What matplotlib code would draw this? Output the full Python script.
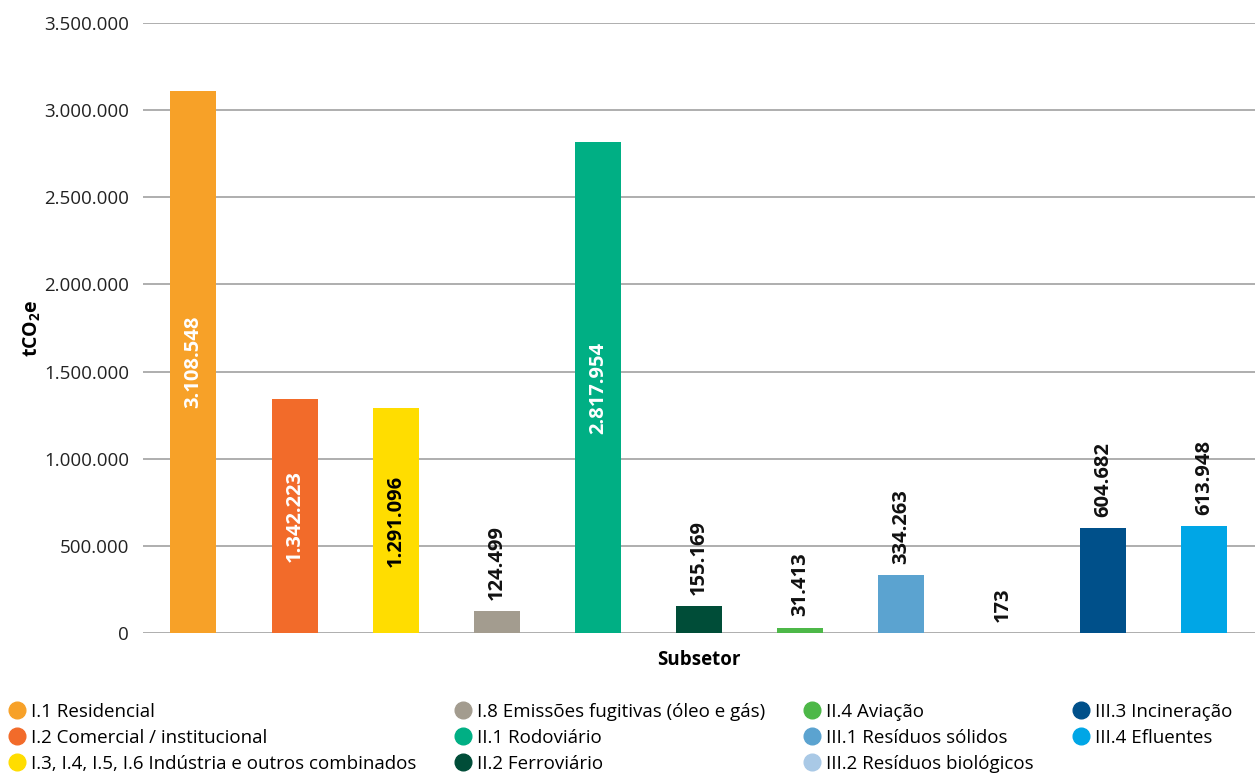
import matplotlib
matplotlib.use("Agg")
import matplotlib.pyplot as plt
from matplotlib.lines import Line2D
from matplotlib.ticker import FuncFormatter

plt.rcParams['font.family'] = ['Open Sans', 'DejaVu Sans']
plt.rcParams['mathtext.fontset'] = 'custom'
plt.rcParams['mathtext.rm'] = 'Open Sans'
plt.rcParams['mathtext.bf'] = 'Open Sans:bold'

categories = ["I.1 Residencial", "I.2 Comercial / institucional",
              "I.3, I.4, I.5, I.6 Indústria e outros combinados",
              "I.8 Emissões fugitivas (óleo e gás)", "II.1 Rodoviário",
              "II.2 Ferroviário", "II.4 Aviação", "III.1 Resíduos sólidos",
              "III.2 Resíduos biológicos", "III.3 Incineração", "III.4 Efluentes"]
values = [3108548, 1342223, 1291096, 124499, 2817954, 155169, 31413,
          334263, 173, 604682, 613948]
colors = ["#F7A128", "#F26B2A", "#FFDD00", "#A39C8F", "#00AF84", "#004D38",
          "#4DB848", "#5BA3D0", "#A9C9E6", "#00508A", "#00A6E6"]
inside_label_color = {0: "white", 1: "white", 2: "black", 4: "white"}
yticks = [0, 500000, 1000000, 1500000, 2000000, 2500000, 3000000, 3500000]

def fmt(v):
    return f"{v:,.0f}".replace(",", ".")

fig = plt.figure(figsize=(12.55, 7.75), dpi=100)
ax = fig.add_axes([0.1139, 0.1832, 0.8861, 0.7871])

x = list(range(len(values)))
ax.bar(x, values, width=0.455, color=colors, zorder=3)
ax.set_xlim(-0.5, len(values) - 0.5)
ax.set_ylim(0, 3500000)
ax.set_yticks(yticks)
ax.yaxis.set_major_formatter(FuncFormatter(lambda v, p: fmt(v)))
ax.tick_params(axis='y', length=0, pad=10, labelsize=13.5, labelcolor="#222222")
ax.set_xticks([])
ax.grid(axis='y', color="#A8A8A8", linewidth=1.3, zorder=0)
for s in ax.spines.values():
    s.set_visible(False)

for i, v in enumerate(values):
    if i in inside_label_color:
        ax.text(i, v / 2, fmt(v), rotation=90, ha='center', va='center',
                color=inside_label_color[i], fontsize=14.5, fontweight='bold', zorder=4)
    else:
        ax.annotate(fmt(v), (i, v), xytext=(0, 8), textcoords='offset points',
                    rotation=90, ha='center', va='bottom', color='#111111',
                    fontsize=14.5, fontweight='bold', zorder=4)

ax.set_ylabel(r"tCO$_\mathbf{2}$e", fontsize=14, fontweight='bold', labelpad=1)
ax.set_xlabel("Subsetor", fontsize=13.5, fontweight='bold', labelpad=12)

handles = [Line2D([0], [0], marker='o', linestyle='', markersize=12,
                  markerfacecolor=c, markeredgecolor=c) for c in colors]
fig.legend(handles, categories, loc='upper left', bbox_to_anchor=(0.006, 0.093),
           ncol=4, frameon=False, fontsize=13.5, handletextpad=0.25,
           handlelength=1.0, columnspacing=2.0, labelspacing=0.42,
           borderaxespad=0, borderpad=0)

fig.savefig("out.png", dpi=100)
